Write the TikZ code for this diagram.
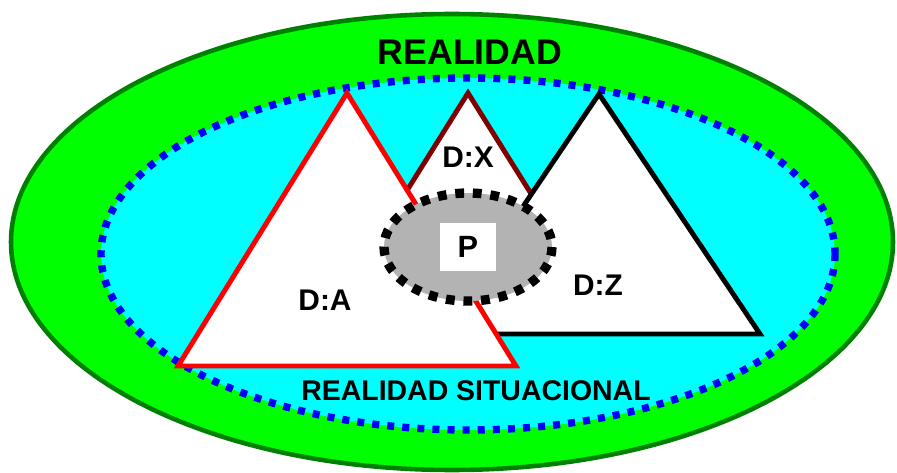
\documentclass[tikz,border=0pt]{standalone}
\usepackage{fontspec}
\setmainfont{Liberation Sans}
\definecolor{realgreen}{HTML}{00FF00}
\definecolor{realborder}{HTML}{008000}
\definecolor{sitcyan}{HTML}{00FFFF}
\definecolor{dotblue}{HTML}{0000FF}
\definecolor{dxred}{HTML}{800000}
\definecolor{pgray}{HTML}{B3B3B3}
\begin{document}
\begin{tikzpicture}[x=0.02cm,y=-0.02cm,
    every node/.style={font=\bfseries},
    dombox/.style={fill=white,line width=2.8pt,line join=miter},
    lbl/.style={font=\bfseries\fontsize{17}{17}\selectfont}]
        \useasboundingbox (0,0) rectangle (897,473);
        % realidad
        \draw[fill=realgreen,draw=realborder,line width=2.6pt](452,242) ellipse [x radius=441,y radius=228];
        \draw[fill=sitcyan,draw=dotblue,line width=4.2pt,dash pattern=on 4pt off 4.6pt](468,254) ellipse [x radius=367,y radius=176];
        \node (real) at (470,52) {\fontsize{20.3}{20}\selectfont REALIDAD};
        \node (sit) at (476,391) {\fontsize{16.2}{16}\selectfont REALIDAD SITUACIONAL};
        % dominios
        \draw[dombox,draw=dxred](468,93)--(376,240)--(560,240)--cycle;
        \draw[dombox,draw=black](599,94)--(437,334)--(760,334)--cycle;
        \draw[dombox,draw=red](347,93)--(178,366)--(516,366)--cycle;
        \node[lbl] (dx) at (468,157) {D:X};
        \node[lbl] (dz) at (598,285) {D:Z};
        \node[lbl] (da) at (325,300) {D:A};
        % problema
        \draw[fill=pgray,draw=black,line width=5.3pt,dash pattern=on 5pt off 5pt](468,247) ellipse [x radius=84,y radius=54];
        \node[fill=white,minimum width=1.14cm,minimum height=0.96cm,font=\bfseries\fontsize{17.5}{17}\selectfont] (p) at (468,247) {P};
    \end{tikzpicture}
\end{document}
